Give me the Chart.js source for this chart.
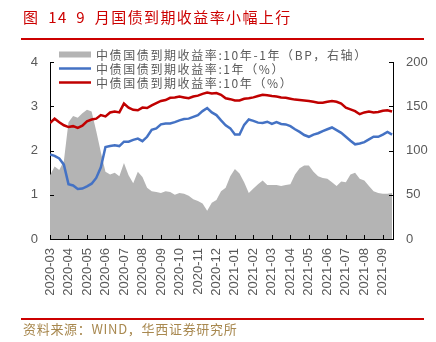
<!DOCTYPE html>
<html>
<head>
<meta charset="utf-8">
<script src="https://cdn.jsdelivr.net/npm/chart.js@4"></script>
<style>
  body { margin: 0; background: #fff; }
  #wrap { position: relative; width: 436px; height: 342px; overflow: hidden; }
  #myChart { position: absolute; left: 0; top: 0; }
  .title { position: absolute; left: 23px; top: 8px; font: 15px/18px "Noto Sans CJK SC", sans-serif; letter-spacing: 1.4px; word-spacing: 4px; color: #cc0000; white-space: nowrap; }
  .rule { position: absolute; left: 21px; width: 403px; height: 2px; background: #cc0000; }
  .source { position: absolute; left: 23px; top: 321px; font: 13px/16px "Noto Sans CJK SC", sans-serif; letter-spacing: 0.7px; color: #a8884f; white-space: nowrap; }
</style>
</head>
<body>
<div id="wrap">
  <canvas id="myChart" width="436" height="342"></canvas>
  <div class="title">图 14 9 月国债到期收益率小幅上行</div>
  <div class="rule" style="top:38px"></div>
  <div class="rule" style="top:318px"></div>
  <div class="source">资料来源：WIND，华西证券研究所</div>
</div>
<script>
// month tick labels, one per month starting 2020-03
var monthLabels = ['2020-03', '2020-04', '2020-05', '2020-06', '2020-07', '2020-08', '2020-09',
    '2020-10', '2020-11', '2020-12', '2021-01', '2021-02', '2021-03', '2021-04', '2021-05',
    '2021-06', '2021-07', '2021-08', '2021-09'];

// readings taken roughly every quarter month (about weekly)
var sampleStep = 0.25;

// 10Y - 1Y spread, BP (right axis)
var spreadBP = [72, 82, 78, 88, 132, 139, 137, 142, 146, 144,
    122, 98, 76, 73, 75, 71, 86, 72, 63, 76,
    70, 58, 54, 53, 52, 54, 53, 50, 52, 51,
    49, 45, 43, 40, 32, 41, 44, 54, 58, 71,
    79, 74, 64, 52, 57, 62, 66, 61, 61, 61,
    60, 61, 62, 73, 80, 83, 83, 76, 71, 69,
    68, 64, 60, 65, 64, 73, 75, 68, 66, 60,
    54, 52, 51, 51, 52];

// 1Y yield, %
var yield1Y = [1.91, 1.88, 1.82, 1.68, 1.24, 1.21, 1.13, 1.14, 1.19, 1.25,
    1.38, 1.62, 2.08, 2.10, 2.12, 2.10, 2.20, 2.20, 2.24, 2.27,
    2.21, 2.31, 2.47, 2.50, 2.59, 2.61, 2.61, 2.64, 2.68, 2.71,
    2.72, 2.76, 2.80, 2.89, 2.96, 2.86, 2.80, 2.68, 2.57, 2.50,
    2.36, 2.36, 2.58, 2.70, 2.67, 2.63, 2.62, 2.65, 2.60, 2.64,
    2.60, 2.59, 2.55, 2.48, 2.42, 2.35, 2.31, 2.36, 2.39, 2.44,
    2.48, 2.52, 2.46, 2.40, 2.31, 2.22, 2.14, 2.16, 2.19, 2.25,
    2.31, 2.31, 2.36, 2.42, 2.36];

// 10Y yield, %
var yield10Y = [2.62, 2.72, 2.64, 2.57, 2.53, 2.55, 2.51, 2.56, 2.66, 2.70,
    2.72, 2.80, 2.77, 2.86, 2.88, 2.86, 3.06, 2.97, 2.92, 2.91,
    2.97, 2.96, 3.02, 3.07, 3.12, 3.14, 3.19, 3.20, 3.22, 3.20,
    3.18, 3.22, 3.24, 3.28, 3.31, 3.29, 3.30, 3.26, 3.18, 3.16,
    3.13, 3.13, 3.17, 3.18, 3.20, 3.23, 3.26, 3.25, 3.23, 3.22,
    3.20, 3.19, 3.17, 3.15, 3.14, 3.13, 3.12, 3.10, 3.08, 3.08,
    3.10, 3.12, 3.10, 3.06, 2.97, 2.93, 2.89, 2.82, 2.86, 2.88,
    2.86, 2.87, 2.90, 2.91, 2.88];

var seriesNames = ['中债国债到期收益率:10年-1年（BP，右轴）', '中债国债到期收益率:1年（%）', '中债国债到期收益率:10年（%）'];

function toPoints(values) {
    return values.map(function (v, i) { return { x: i * sampleStep, y: v }; });
}

var tickColor = '#595959';
var tickFont = { family: '"Liberation Sans", Arial, sans-serif', size: 13 };

// small inward tick marks on all three axes
var innerTicks = {
    id: 'innerTicks',
    afterDraw: function (chart) {
        var ctx = chart.ctx, a = chart.chartArea;
        ctx.save();
        ctx.strokeStyle = '#000';
        ctx.lineWidth = 1;
        ctx.beginPath();
        chart.scales.x.ticks.forEach(function (t) {
            var px = Math.round(chart.scales.x.getPixelForValue(t.value)) + 0.5;
            ctx.moveTo(px, a.bottom);
            ctx.lineTo(px, a.bottom - 4);
        });
        chart.scales.y.ticks.forEach(function (t) {
            var py = Math.round(chart.scales.y.getPixelForValue(t.value)) + 0.5;
            ctx.moveTo(a.left, py);
            ctx.lineTo(a.left + 4, py);
        });
        chart.scales.y1.ticks.forEach(function (t) {
            var py = Math.round(chart.scales.y1.getPixelForValue(t.value)) + 0.5;
            ctx.moveTo(a.right, py);
            ctx.lineTo(a.right - 4, py);
        });
        ctx.stroke();
        ctx.restore();
    }
};

// legend sits inside the top left of the plot
var innerLegend = {
    id: 'innerLegend',
    afterDraw: function (chart) {
        var ctx = chart.ctx;
        var rows = [54.5, 68.5, 82.5];
        ctx.save();
        ctx.font = '12px "Noto Sans CJK SC", sans-serif';
        ctx.letterSpacing = '1.6px';
        ctx.textBaseline = 'middle';
        chart.data.datasets.forEach(function (ds, i) {
            var y = rows[i];
            if (i === 0) {
                ctx.fillStyle = ds.backgroundColor;
                ctx.fillRect(59, y - 3, 32, 6);
            } else {
                ctx.strokeStyle = ds.borderColor;
                ctx.lineWidth = 2.5;
                ctx.beginPath();
                ctx.moveTo(59, y);
                ctx.lineTo(91, y);
                ctx.stroke();
            }
            ctx.fillStyle = tickColor;
            ctx.fillText(ds.label, 96, y + 0.5);
        });
        ctx.restore();
    }
};

var ctx = document.getElementById('myChart').getContext('2d');
var chart = new Chart(ctx, {
    type: 'line',
    data: {
        datasets: [{
            label: seriesNames[0],
            data: toPoints(spreadBP),
            yAxisID: 'y1',
            backgroundColor: '#b4b4b4',
            borderColor: 'rgba(0,0,0,0)',
            borderWidth: 0,
            fill: 'origin',
            pointRadius: 0,
            order: 3
        }, {
            label: seriesNames[1],
            data: toPoints(yield1Y),
            yAxisID: 'y',
            borderColor: '#4472c4',
            borderWidth: 2.5,
            fill: false,
            pointRadius: 0,
            order: 2
        }, {
            label: seriesNames[2],
            data: toPoints(yield10Y),
            yAxisID: 'y',
            borderColor: '#c00000',
            borderWidth: 2.5,
            fill: false,
            pointRadius: 0,
            order: 1
        }]
    },
    options: {
        responsive: false,
        animation: false,
        devicePixelRatio: 1,
        layout: { padding: { top: 62, left: 0, right: 0, bottom: 0 } },
        plugins: { legend: { display: false }, tooltip: { enabled: false } },
        scales: {
            x: {
                type: 'linear',
                min: 0,
                max: 18.55,
                grid: { display: false, drawTicks: false },
                border: { display: true, color: '#000' },
                afterBuildTicks: function (scale) {
                    scale.ticks = monthLabels.map(function (l, i) { return { value: i }; });
                },
                afterFit: function (scale) { scale.height = 103; },
                ticks: {
                    autoSkip: false,
                    minRotation: 90,
                    maxRotation: 90,
                    padding: 9,
                    color: tickColor,
                    font: tickFont,
                    callback: function (value) { return monthLabels[value]; }
                }
            },
            y: {
                position: 'left',
                min: 0,
                max: 4,
                grid: { display: false, drawTicks: false },
                border: { display: true, color: '#000' },
                afterFit: function (scale) { scale.width = 50; },
                ticks: { stepSize: 1, padding: 12, color: tickColor, font: tickFont }
            },
            y1: {
                position: 'right',
                min: 0,
                max: 200,
                grid: { display: false, drawTicks: false },
                border: { display: true, color: '#000' },
                afterFit: function (scale) { scale.width = 43; },
                ticks: { stepSize: 50, padding: 13, color: tickColor, font: tickFont }
            }
        }
    },
    plugins: [innerTicks, innerLegend]
});
</script>
</body>
</html>
